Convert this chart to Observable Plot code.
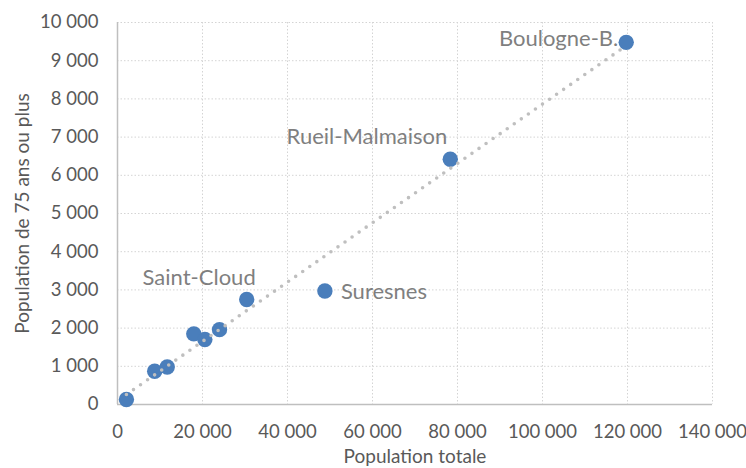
<!DOCTYPE html>
<html>
<head>
<meta charset="utf-8">
<script src="https://cdn.jsdelivr.net/npm/d3@7"></script>
<script src="https://cdn.jsdelivr.net/npm/@observablehq/plot@0.6"></script>
<style>
  html, body { margin: 0; padding: 0; background: #fff; }
  #chart { width: 746px; height: 468px; }
</style>
</head>
<body>
<div id="chart"></div>
<script>
// Data
const popTotale = [2100, 8750, 11700, 17950, 20550, 24000, 30400, 48800, 78300, 119700];
const pop75     = [130, 870, 980, 1850, 1700, 1960, 2750, 2970, 6420, 9480];
const names     = ["", "", "", "", "", "", "Saint-Cloud", "Suresnes", "Rueil-Malmaison", "Boulogne-B."];
const xTicks = [0, 20000, 40000, 60000, 80000, 100000, 120000, 140000];
const yTicks = [0, 1000, 2000, 3000, 4000, 5000, 6000, 7000, 8000, 9000, 10000];
const xTitle = "Population totale";
const yTitle = "Population de 75 ans ou plus";

const data = popTotale.map((x, i) => ({x, y: pop75[i], name: names[i]}));
const fmt = v => d3.format(",")(v).replace(/,/g, "\u00a0");

const labelStyle = {x: "x", y: "y", text: "name", fontSize: 22, fill: "#7f7f7f", lineAnchor: "middle"};
const pick = n => data.filter(d => d.name === n);

const chart = Plot.plot({
  width: 746,
  height: 468,
  marginLeft: 117,
  marginRight: 34,
  marginTop: 22,
  marginBottom: 64,
  style: {fontFamily: "Lato, sans-serif", background: "#fff", overflow: "visible"},
  x: {domain: [0, 140000]},
  y: {domain: [0, 10000]},
  marks: [
    Plot.gridX(xTicks, {stroke: "#d4d4d4", strokeOpacity: 1, strokeWidth: 1, strokeDasharray: "1.5,2"}),
    Plot.gridY(yTicks, {stroke: "#d4d4d4", strokeOpacity: 1, strokeWidth: 1, strokeDasharray: "1.5,2"}),
    Plot.ruleX([0], {stroke: "#bfbfbf", strokeWidth: 1.5}),
    Plot.ruleY([0], {stroke: "#bfbfbf", strokeWidth: 1.5}),
    Plot.axisX(xTicks, {tickSize: 0, tickPadding: 20, tickFormat: fmt, fontSize: 18.5, fill: "#595959", label: null}),
    Plot.axisY(yTicks, {tickSize: 0, tickPadding: 19, tickFormat: fmt, fontSize: 18.5, fill: "#595959", label: null}),
    Plot.text([xTitle], {frameAnchor: "bottom", textAnchor: "middle", dy: 52, fontSize: 19, fill: "#595959", lineAnchor: "middle"}),
    Plot.text([yTitle], {frameAnchor: "left", textAnchor: "middle", dx: -95, rotate: -90, fontSize: 19, fill: "#595959", lineAnchor: "middle"}),
    Plot.dot(data, {x: "x", y: "y", r: 7.7, fill: "#4a7ebb", stroke: "none"}),
    Plot.linearRegressionY(data, {x: "x", y: "y", ci: 0, stroke: "#bfbfbf", strokeWidth: 3.6, strokeDasharray: "0,8.6", strokeLinecap: "round"}),
    Plot.text(pick("Boulogne-B."), {...labelStyle, textAnchor: "end", dx: -8, dy: -3}),
    Plot.text(pick("Rueil-Malmaison"), {...labelStyle, textAnchor: "end", dx: -3, dy: -22}),
    Plot.text(pick("Saint-Cloud"), {...labelStyle, textAnchor: "end", dx: 9, dy: -21}),
    Plot.text(pick("Suresnes"), {...labelStyle, textAnchor: "start", dx: 16, dy: 1})
  ]
});
document.getElementById("chart").appendChild(chart);
</script>
</body>
</html>
